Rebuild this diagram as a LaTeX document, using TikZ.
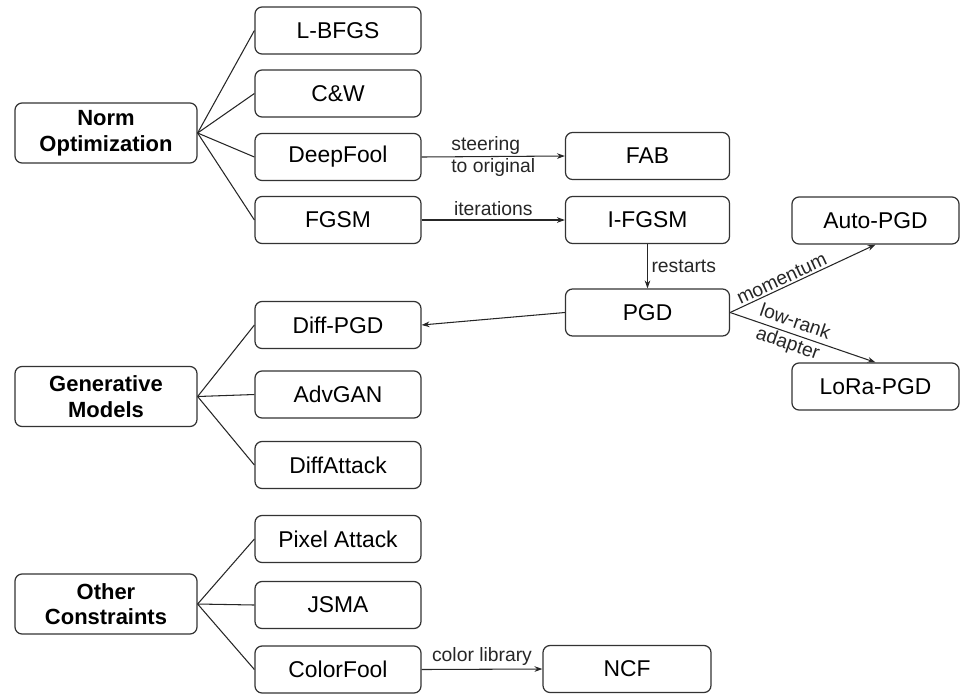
\documentclass[tikz,border=0pt]{standalone}
\usepackage{fontspec}
\setmainfont{Liberation Sans}
\usetikzlibrary{arrows.meta}

\begin{document}
\begin{tikzpicture}[
	cat/.style={
		draw=black!80, rounded corners=4pt, line width=0.7pt,
		minimum width=3.64cm, minimum height=1.2cm,
		align=center, font=\fontsize{12.5}{14.5}\selectfont\bfseries
	},
	attack/.style={
		draw=black!80, rounded corners=4pt, line width=0.7pt,
		minimum width=3.32cm, minimum height=0.94cm,
		align=center, font=\fontsize{13}{15}\selectfont
	},
	link/.style={black!85, line width=0.6pt},
	arr/.style={-{Stealth[length=4.5pt, width=3.2pt]}, black!85, line width=0.6pt},
	lbl/.style={font=\fontsize{11}{13}\selectfont, align=left, inner sep=2pt}
]

\useasboundingbox (0,0) rectangle (19.22,-13.9);

% categories
\node[cat] (norm)  at (2.12, -2.66)  {Norm\\Optimization};
\node[cat] (gen)   at (2.12, -7.93)  {Generative\\Models};
\node[cat] (other) at (2.12, -12.08) {Other\\Constraints};

% attacks
\node[attack] (lbfgs)     at (6.76, -0.61)  {L-BFGS};
\node[attack] (cw)        at (6.76, -1.87)  {C\&W};
\node[attack] (deepfool)  at (6.76, -3.14)  {DeepFool};
\node[attack] (fgsm)      at (6.76, -4.40)  {FGSM};
\node[attack] (diffpgd)   at (6.76, -6.50)  {Diff-PGD};
\node[attack] (advgan)    at (6.76, -7.89)  {AdvGAN};
\node[attack] (diffatk)   at (6.76, -9.30)  {DiffAttack};
\node[attack] (pixel)     at (6.76, -10.78) {Pixel Attack};
\node[attack] (jsma)      at (6.76, -12.10) {JSMA};
\node[attack] (colorfool) at (6.76, -13.39) {ColorFool};

\node[attack, minimum width=3.28cm] (fab)   at (12.95, -3.12)  {FAB};
\node[attack, minimum width=3.28cm] (ifgsm) at (12.95, -4.40)  {I-FGSM};
\node[attack, minimum width=3.28cm] (pgd)   at (12.95, -6.25)  {PGD};
\node[attack, minimum width=3.36cm] (ncf)   at (12.54, -13.38) {NCF};
\node[attack, minimum width=3.34cm] (apgd)  at (17.51, -4.41)  {Auto-PGD};
\node[attack, minimum width=3.34cm] (lora)  at (17.51, -7.73)  {LoRa-PGD};

% fans
\foreach \a in {lbfgs, cw, deepfool, fgsm}
	\draw[link] (norm.east) -- (\a.west);
\foreach \a in {diffpgd, advgan, diffatk}
	\draw[link] (gen.east) -- (\a.west);
\foreach \a in {pixel, jsma, colorfool}
	\draw[link] (other.east) -- (\a.west);

% derived attacks
\draw[arr] (deepfool.east)  -- node[lbl] {steering\\to original} (fab.west);
\draw[arr] (fgsm.east)      -- node[lbl, above] {iterations}     (ifgsm.west);
\draw[arr] (ifgsm.south)    -- node[lbl, right] {restarts}       (pgd.north);
\draw[arr] (pgd.west)       -- (diffpgd.east);
\draw[arr] (pgd.east)       -- node[lbl, above, sloped, pos=0.38, inner sep=1pt] {momentum} (apgd.south);
\draw[arr] (pgd.east)       -- node[lbl, sloped, pos=0.42, align=center] {low-rank\\adapter} (lora.north);
\draw[arr] (colorfool.east) -- node[lbl, above] {color library}  (ncf.west);

\end{tikzpicture}
\end{document}
